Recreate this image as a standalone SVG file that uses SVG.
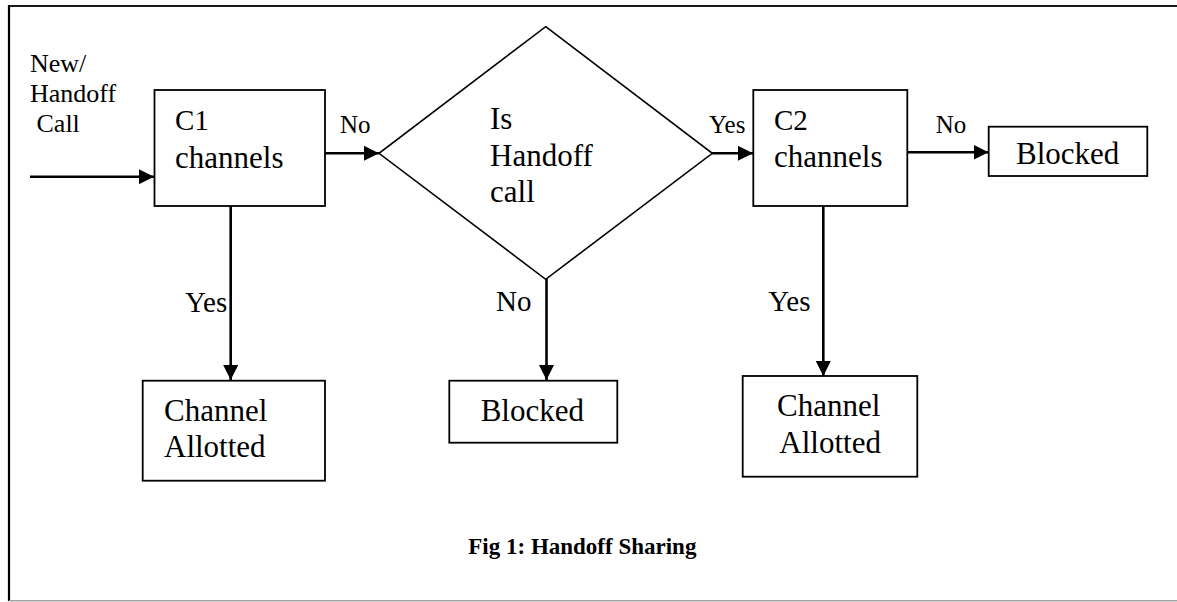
<svg xmlns="http://www.w3.org/2000/svg" width="1177" height="602" viewBox="0 0 1177 602">
  <style>
    .box { fill: #fff; stroke: #000; stroke-width: 1.8; }
    .dia { fill: #fff; stroke: #000; stroke-width: 1.6; }
    .edge { fill: none; stroke: #000; stroke-width: 2.6; }
    text { font-family: "Liberation Serif", "Times New Roman", Times, "Nimbus Roman", "DejaVu Serif", serif; font-weight: normal; fill: #000; }
    .node { font-size: 31px; }
    .lbl { font-size: 25px; }
    .vlbl { font-size: 29px; }
    .cap { font-size: 23px; font-weight: bold; }
  </style>
  <defs>
    <marker id="arrow" markerWidth="15" markerHeight="15" refX="15" refY="7.5" orient="auto" markerUnits="userSpaceOnUse">
      <path d="M0,0 L15,7.5 L0,15 Z" fill="#000"/>
    </marker>
  </defs>

  <rect width="1177" height="602" fill="#fff"/>

  <!-- page frame -->
  <g id="frame">
    <line x1="8" y1="6" x2="1177" y2="6" stroke="#1a1a1a" stroke-width="2.2"/>
    <line x1="9" y1="5" x2="9" y2="601" stroke="#000" stroke-width="2.2"/>
    <line x1="9" y1="600.7" x2="1177" y2="600.7" stroke="#a0a0a0" stroke-width="1.4"/>
  </g>

  <!-- connectors -->
  <g id="connectors">
    <line class="edge" x1="30" y1="176.7" x2="154" y2="176.7" marker-end="url(#arrow)"/>
    <line class="edge" x1="325" y1="153.3" x2="379" y2="153.3" marker-end="url(#arrow)"/>
    <line class="edge" x1="712" y1="153.3" x2="753" y2="153.3" marker-end="url(#arrow)"/>
    <line class="edge" x1="907" y1="152.3" x2="988.5" y2="152.3" marker-end="url(#arrow)"/>
    <line class="edge" x1="230.7" y1="206" x2="230.7" y2="380" marker-end="url(#arrow)"/>
    <line class="edge" x1="546.5" y1="279" x2="546.5" y2="380" marker-end="url(#arrow)"/>
    <line class="edge" x1="823.3" y1="206" x2="823.3" y2="376" marker-end="url(#arrow)"/>

    <text class="lbl" x="340" y="133">No</text>
    <text class="lbl" x="709" y="132.7">Yes</text>
    <text class="lbl" x="935.7" y="133">No</text>
    <text class="vlbl" x="185" y="311.7">Yes</text>
    <text class="vlbl" x="496" y="311">No</text>
    <text class="vlbl" x="768.3" y="310.7">Yes</text>
  </g>

  <!-- incoming call label -->
  <g id="source">
    <text x="30" y="71.7" font-size="26">New/</text>
    <text x="30" y="102.3" font-size="26">Handoff</text>
    <text x="30" y="131.7" font-size="26" xml:space="preserve"> Call</text>
  </g>

  <g id="c1">
    <rect class="box" x="154.5" y="90" width="170.5" height="116"/>
    <text x="175" y="130" font-size="29">C1</text>
    <text class="node" x="175" y="167.7">channels</text>
  </g>

  <g id="decision">
    <polygon class="dia" points="545.7,26.7 712.3,153.3 545.7,279.3 379,153.3"/>
    <text class="node" x="490" y="129">Is</text>
    <text class="node" x="490" y="165.7">Handoff</text>
    <text class="node" x="490" y="201.7">call</text>
  </g>

  <g id="c2">
    <rect class="box" x="753.3" y="90" width="154" height="116"/>
    <text x="774" y="130" font-size="29">C2</text>
    <text class="node" x="774" y="166.7">channels</text>
  </g>

  <g id="blocked-c2">
    <rect class="box" x="988.7" y="126.7" width="158.6" height="49.3"/>
    <text class="node" x="1016" y="164.3">Blocked</text>
  </g>

  <g id="allotted-c1">
    <rect class="box" x="142.7" y="380.7" width="182.3" height="100"/>
    <text class="node" x="164" y="420.7">Channel</text>
    <text class="node" x="164" y="457.3">Allotted</text>
  </g>

  <g id="blocked-decision">
    <rect class="box" x="449.3" y="380.7" width="168" height="62"/>
    <text class="node" x="480.7" y="420.7">Blocked</text>
  </g>

  <g id="allotted-c2">
    <rect class="box" x="742.7" y="376" width="174.6" height="100.7"/>
    <text class="node" x="777" y="416">Channel</text>
    <text class="node" x="779.3" y="453.3">Allotted</text>
  </g>

  <g id="caption">
    <text class="cap" x="468.3" y="554">Fig 1: Handoff Sharing</text>
  </g>
</svg>
